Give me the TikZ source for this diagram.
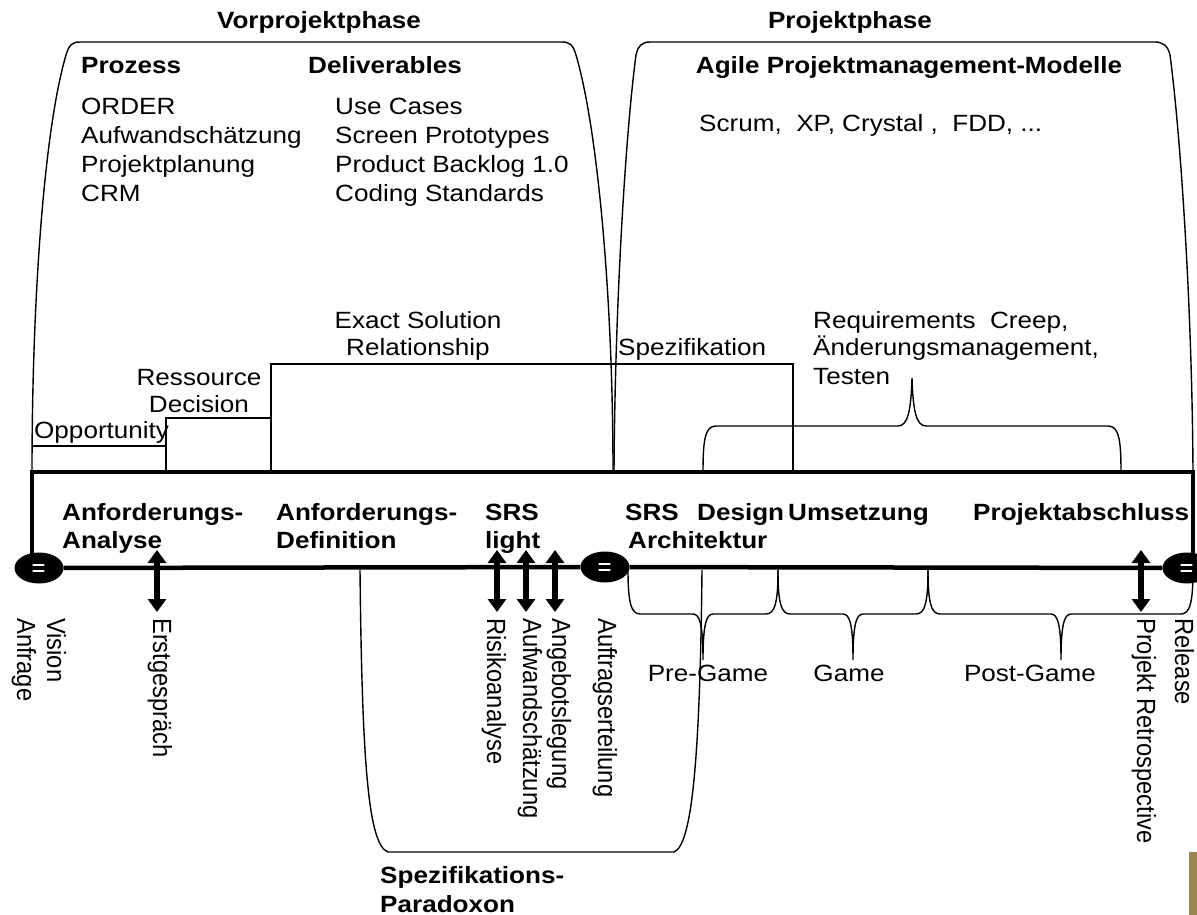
\documentclass[tikz,border=0pt]{standalone}
\usepackage{fontspec}
\setmainfont{Liberation Sans}[FakeStretch=1.11]
\newfontfamily\uprightcol{Liberation Sans}
\usetikzlibrary{arrows.meta,shapes.geometric,calc}
\definecolor{olivebar}{RGB}{156,132,78}

\begin{document}
\begin{tikzpicture}[x=1pt,y=-1pt,
  txt/.style={inner sep=0pt,font=\fontsize{23.5}{28.7}\selectfont},
  btxt/.style={inner sep=0pt,font=\fontsize{23.5}{28.7}\selectfont\bfseries},
  vtxt/.style={inner sep=0pt,font=\uprightcol\fontsize{23.7}{28.7}\selectfont,
               rotate=-90,yscale=1.11,anchor=base west},
  thinline/.style={line width=1.4pt},
  frame/.style={line width=4pt},
  axis/.style={line width=4.5pt},
  milestone/.style={ellipse,fill=black,draw=none,minimum width=49pt,
                    minimum height=31pt,inner sep=0pt},
  eqmark/.style={white,line width=1.1pt,line cap=round},
  dblarrow/.style={line width=5.5pt,
    {Triangle[width=18pt,length=13pt]}-{Triangle[width=18pt,length=13pt]}},
]
\useasboundingbox (0,0) rectangle (1197,915);

% ---- phase headings ----
\node[btxt,anchor=base] (vor) at (319,29) {Vorprojektphase};
\node[btxt,anchor=base] (pro) at (850,29) {Projektphase};

% ---- phase outlines ----
\draw[thinline] (32,472) .. controls (32,300) and (44,130) .. (66,55)
  .. controls (69,45) and (72,42) .. (80,42) -- (562,42)
  .. controls (570,42) and (573,45) .. (576,55)
  .. controls (598,130) and (613,300) .. (613,472);
\draw[thinline] (614,472) .. controls (615,300) and (626,130) .. (636,55)
  .. controls (638,46) and (642,42) .. (650,42) -- (1155,42)
  .. controls (1163,42) and (1168,46) .. (1170,55)
  .. controls (1180,130) and (1192,300) .. (1193,472);

% ---- pre-project contents ----
\node[btxt,anchor=base west] (prozhd) at (81,74) {Prozess};
\node[btxt,anchor=base west] (delhd) at (308,74) {Deliverables};
\foreach \t [count=\i] in {ORDER,Aufwandschätzung,Projektplanung,CRM}
  \node[txt,anchor=base west] (proz\i) at (81,{115+28.7*(\i-1)}) {\t};
\foreach \t [count=\i] in {Use Cases,Screen Prototypes,Product Backlog 1.0,Coding Standards}
  \node[txt,anchor=base west] (del\i) at (335,{115+28.7*(\i-1)}) {\t};

% ---- project contents ----
\node[btxt,anchor=base] (agile) at (909,74) {Agile Projektmanagement-Modelle};
\node[txt,anchor=base west] (methods) at (699,132) {Scrum,\ \ XP, Crystal ,\ \ FDD, ...};

% ---- staircase of relationships ----
\node[txt,anchor=base west] (opp) at (34,438) {Opportunity};
\node[txt,anchor=base] (res1) at (199,385) {Ressource};
\node[txt,anchor=base] (res2) at (199,412) {Decision};
\node[txt,anchor=base] (esr1) at (418,328) {Exact Solution};
\node[txt,anchor=base] (esr2) at (418,355) {Relationship};
\node[txt,anchor=base west] (spez) at (618,355) {Spezifikation};
\draw[thinline] (32,446) -- (166,446);
\draw[thinline] (166,472) -- (166,418) -- (271,418);
\draw[thinline] (271,472) -- (271,364) -- (793,364) -- (793,472);

% ---- requirements brace ----
\node[txt,anchor=base west] (rc1) at (813,328) {Requirements\ \ Creep,};
\node[txt,anchor=base west] (rc2) at (813,355) {Änderungsmanagement,};
\node[txt,anchor=base west] (rc3) at (813,384) {Testen};
\draw[thinline] (703,472) .. controls (703,440) and (705,426) .. (716,426) -- (898,426)
  .. controls (908,426) and (911,410) .. (912,378)
  .. controls (913,410) and (916,426) .. (926,426) -- (1108,426)
  .. controls (1119,426) and (1121,440) .. (1121,472);

% ---- process frame and time line ----
\draw[frame] (32,556) -- (32,472) -- (1193,472) -- (1193,556);
\node[milestone] (ms1) at (39,568) {};
\node[milestone] (ms2) at (605,567) {};
\node[milestone] (ms3) at (1187,568) {};
\draw[axis] (ms1) -- (ms2);
\draw[axis] (ms2) -- (ms3);
\foreach \m in {ms1,ms2,ms3} {
  \draw[eqmark] ($(\m.center)+(-6,-3)$) -- ($(\m.center)+(5,-3)$);
  \draw[eqmark] ($(\m.center)+(-6,3)$) -- ($(\m.center)+(5,3)$);
}

% ---- activities ----
\node[btxt,anchor=base west] (ana1) at (62,520) {Anforderungs-};
\node[btxt,anchor=base west] (ana2) at (62,548) {Analyse};
\node[btxt,anchor=base west] (def1) at (276,520) {Anforderungs-};
\node[btxt,anchor=base west] (def2) at (276,548) {Definition};
\node[btxt,anchor=base west] (srsl1) at (485,520) {SRS};
\node[btxt,anchor=base west] (srsl2) at (485,548) {light};
\node[btxt,anchor=base west] (srsa1) at (625,520) {SRS};
\node[btxt,anchor=base west] (srsa2) at (628,548) {Architektur};
\node[btxt,anchor=base west] (design) at (697,520) {Design};
\node[btxt,anchor=base west] (ums) at (788,520) {Umsetzung};
\node[btxt,anchor=base west] (abschl) at (973,520) {Projektabschluss};

% ---- events on the time line ----
\foreach \n/\x in {erst/157,risk/497,aufw/526,ang/555,retro/1141} {
  \coordinate (\n-t) at (\x,550);
  \coordinate (\n-b) at (\x,612);
  \draw[dblarrow] (\n-t) -- (\n-b);
}
\node[vtxt] (vis) at (47,618) {Vision};
\node[vtxt] (anf) at (17,618) {Anfrage};
\node[vtxt] (erstl) at (153,618) {Erstgespräch};
\node[vtxt] (riskl) at (487,618) {Risikoanalyse};
\node[vtxt] (aufwl) at (523,618) {Aufwandschätzung};
\node[vtxt] (angl) at (552,618) {Angebotslegung};
\node[vtxt] (auftl) at (598,618) {Auftragserteilung};
\node[vtxt] (retrol) at (1137,618) {Projekt Retrospective};
\node[vtxt] (rell) at (1175,618) {Release};

% ---- game braces ----
\foreach \a/\m/\b in {628/703/778,778/853/928,928/1061/1193}
  \draw[thinline] (\a,570) .. controls (\a,602) and (\a+3,614) .. (\a+12,614)
    -- (\m-10,614) .. controls (\m-3,614) and (\m,626) .. (\m,660)
    .. controls (\m,626) and (\m+3,614) .. (\m+10,614)
    -- (\b-12,614) .. controls (\b-3,614) and (\b,602) .. (\b,570);
\node[txt,anchor=base] (pre) at (708,681) {Pre-Game};
\node[txt,anchor=base] (game) at (849,681) {Game};
\node[txt,anchor=base] (post) at (1030,681) {Post-Game};

% ---- specification paradox ----
\draw[thinline] (360,570) .. controls (362,760) and (368,845) .. (388,852) -- (674,852)
  .. controls (692,845) and (700,760) .. (702,570);
\node[btxt,anchor=base west] (par1) at (380,883) {Spezifikations-};
\node[btxt,anchor=base west] (par2) at (380,912) {Paradoxon};

% ---- corner mark ----
\fill[olivebar] (1189,852) rectangle (1197,915);
\end{tikzpicture}
\end{document}
